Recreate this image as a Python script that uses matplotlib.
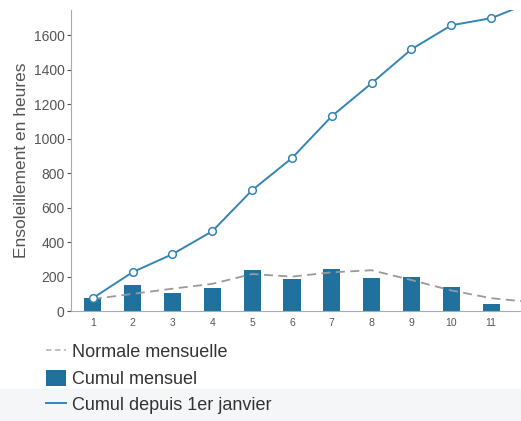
import matplotlib
matplotlib.use('Agg')
import matplotlib.pyplot as plt
from matplotlib.patches import Rectangle
from matplotlib.lines import Line2D
from matplotlib.patches import Patch

plt.rcParams['font.family'] = ['Liberation Sans', 'DejaVu Sans']

# données (heures d'ensoleillement)
months = [1, 2, 3, 4, 5, 6, 7, 8, 9, 10, 11, 12]
monthly = [75, 151, 104, 133, 238, 186, 243, 191, 197, 139, 41]
normal = [70, 100, 130, 158, 215, 200, 225, 237, 180, 120, 75, 52]
cumul = [75, 226, 330, 463, 701, 887, 1130, 1321, 1518, 1657, 1698, 1790]
xtick_labels = ['1', '2', '3', '4', '5', '6', '7', '8', '9', '10', '11']

bar_col = '#21719e'
line_col = '#3585b3'

fig = plt.figure(figsize=(5.21, 4.21), dpi=100)
fig.patches.append(Rectangle((0, 0), 1, 0.075, transform=fig.transFigure,
                             color='#f4f6f7', zorder=-1))
ax = fig.add_axes([0.136, 0.261, 0.864, 0.715])

ax.bar(months[:len(monthly)], monthly, width=0.43, color=bar_col, zorder=2)
ax.plot(months, normal, color='#9a9a9a', linestyle=(0, (5, 3)), linewidth=1.3, zorder=3)
ax.plot(months, cumul, color=line_col, linewidth=1.4, marker='o', markersize=5.5,
        markerfacecolor='white', markeredgecolor=line_col, markeredgewidth=1.1, zorder=4)

ax.set_xlim(0.45, 11.75)
ax.set_ylim(0, 1745)
ax.set_yticks(range(0, 1601, 200))
ax.set_xticks(months[:11])
ax.set_xticklabels(xtick_labels)
ax.tick_params(axis='y', labelsize=10, colors='#555555', length=3, width=0.8, pad=1.5)
ax.tick_params(axis='x', labelsize=7.5, colors='#555555', length=0, pad=5)
for s in ['top', 'right']:
    ax.spines[s].set_visible(False)
for s in ['left', 'bottom']:
    ax.spines[s].set_color('#aaaaaa')
ax.set_ylabel('Ensoleillement en heures', fontsize=12.5, color='#555555', labelpad=3)

handles = [
    Line2D([0], [0], color='#bbbbbb', linestyle=(0, (3, 2)), linewidth=1.3),
    Patch(facecolor=bar_col),
    Line2D([0], [0], color=line_col, linewidth=1.4),
]
labels = ['Normale mensuelle', 'Cumul mensuel', 'Cumul depuis 1er janvier']
fig.legend(handles, labels, loc='upper left', bbox_to_anchor=(0.088, 0.185),
           frameon=False, fontsize=13, handlelength=1.1, handleheight=1.0,
           handletextpad=0.35, labelspacing=0.45, labelcolor='#333333',
           borderaxespad=0, borderpad=0)

fig.savefig('out.png', dpi=100)
